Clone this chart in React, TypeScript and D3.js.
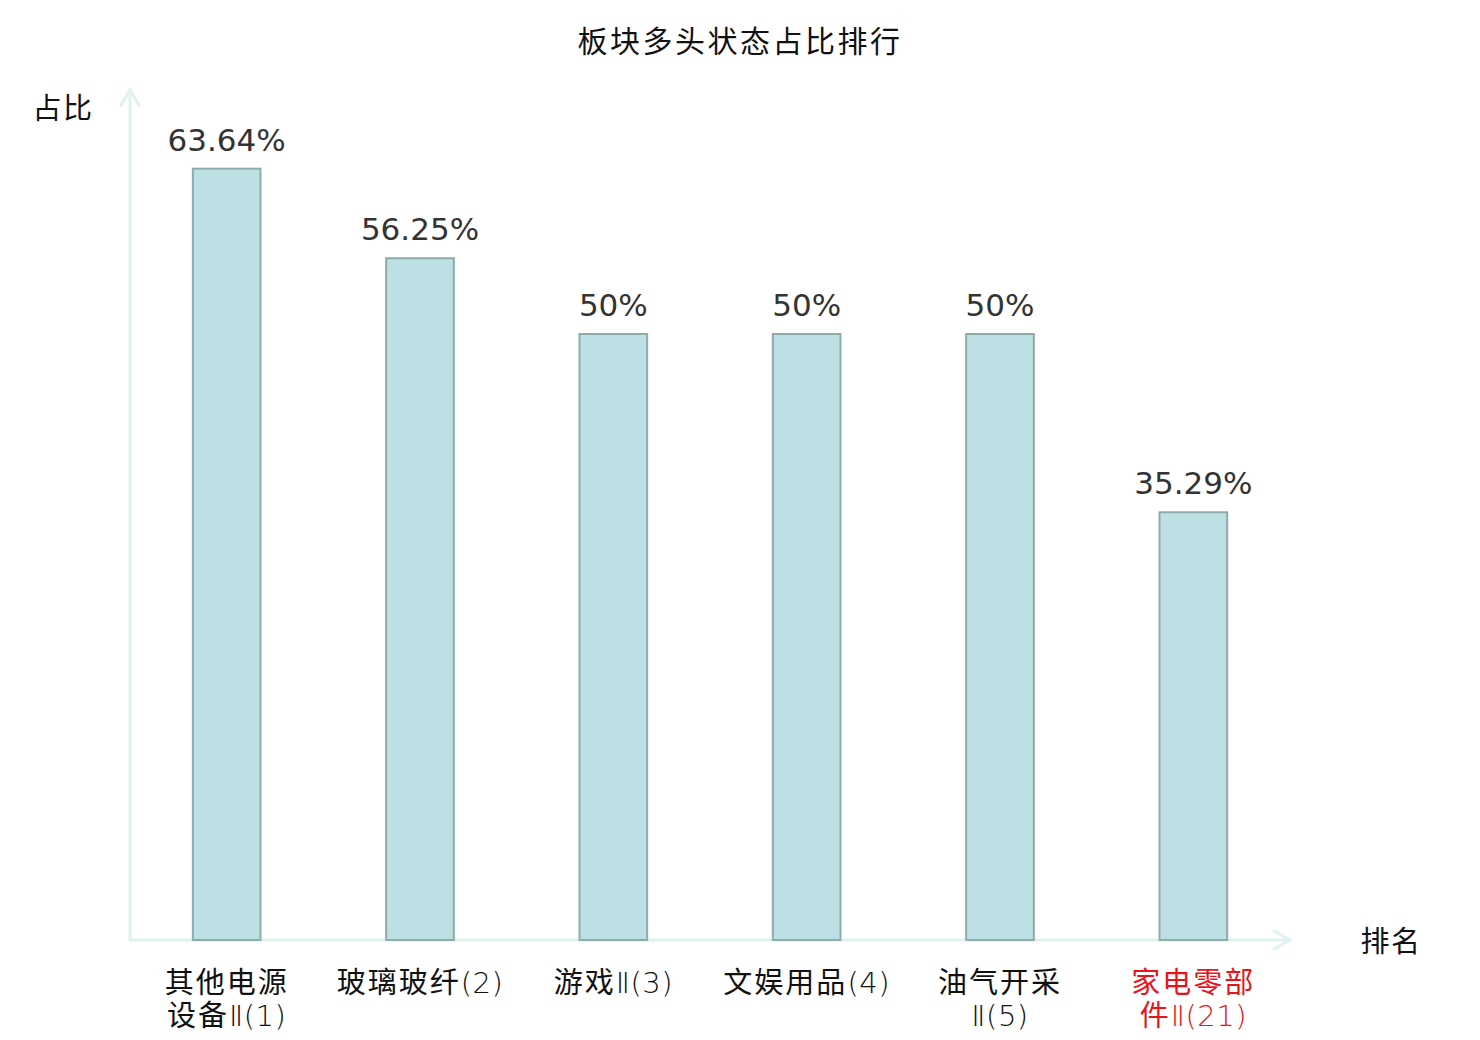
import { useEffect, useRef } from 'react';
import * as d3 from 'd3';

const categories = ['其他电源\n设备Ⅱ(1)', '玻璃玻纤(2)', '游戏Ⅱ(3)', '文娱用品(4)', '油气开采\nⅡ(5)', '家电零部\n件Ⅱ(21)'];
const values = [63.64, 56.25, 50, 50, 50, 35.29];
const valueLabels = ['63.64%', '56.25%', '50%', '50%', '50%', '35.29%'];
const highlighted = [false, false, false, false, false, true];

const title = '板块多头状态占比排行';
const yTitle = '占比';
const xTitle = '排名';

const CJK = '"Noto Sans CJK SC", "DejaVu Sans", sans-serif';
const LATIN = '"DejaVu Sans", "Noto Sans CJK SC", sans-serif';

// split a label line into runs of CJK / non-CJK characters
const splitRuns = (s: string) => s.match(/[\u4e00-\u9fff]+|[^\u4e00-\u9fff]+/g) || [];
const isCjk = (s: string) => /[\u4e00-\u9fff]/.test(s);

export default function App() {
  const svgRef = useRef<SVGSVGElement>(null);

  useEffect(() => {
    if (!svgRef.current) return;
    const svg = d3.select(svgRef.current);
    svg.selectAll('*').remove();

    const width = 1480;
    const height = 1040;
    const x0 = 130;
    const x1 = 1290;
    const yBase = 940;

    const x = d3.scaleBand<number>()
      .domain(d3.range(categories.length))
      .range([x0, x1])
      .paddingInner(0.65)
      .paddingOuter(0.325);

    const y = d3.scaleLinear().domain([0, 70]).range([yBase, 91.6]);

    svg.attr('width', width).attr('height', height);
    svg.append('rect').attr('width', width).attr('height', height).attr('fill', '#ffffff');

    // title
    svg.append('text')
      .attr('x', 740)
      .attr('y', 44)
      .attr('text-anchor', 'middle')
      .attr('dominant-baseline', 'middle')
      .attr('font-family', CJK)
      .attr('font-size', 30)
      .attr('letter-spacing', 2.5)
      .attr('fill', '#111')
      .text(title);

    // axes
    const axisColor = '#dff2ef';
    const axes = svg.append('g')
      .attr('stroke', axisColor)
      .attr('stroke-width', 3)
      .attr('fill', 'none')
      .attr('stroke-linecap', 'round');

    axes.append('line').attr('x1', x0).attr('y1', yBase).attr('x2', x0).attr('y2', 90);
    axes.append('path').attr('d', `M${x0 - 9},${105}L${x0},${90}L${x0 + 9},${105}`);
    axes.append('line').attr('x1', x0).attr('y1', yBase).attr('x2', x1).attr('y2', yBase);
    axes.append('path').attr('d', `M${x1 - 16},${yBase - 9}L${x1},${yBase}L${x1 - 16},${yBase + 9}`);

    // bars
    svg.append('g')
      .selectAll('rect')
      .data(values)
      .join('rect')
      .attr('x', (_, i) => x(i)!)
      .attr('y', d => y(d))
      .attr('width', x.bandwidth())
      .attr('height', d => yBase - y(d))
      .attr('fill', '#bce0e3')
      .attr('stroke', '#8fabab')
      .attr('stroke-width', 2);

    // value labels
    svg.append('g')
      .selectAll('text')
      .data(values)
      .join('text')
      .attr('x', (_, i) => x(i)! + x.bandwidth() / 2)
      .attr('y', d => y(d) - 18)
      .attr('text-anchor', 'middle')
      .attr('font-family', LATIN)
      .attr('font-size', 31)
      .attr('fill', '#333')
      .text((_, i) => valueLabels[i]);

    // category labels, one text per line
    categories.forEach((c, i) => {
      const cx = x(i)! + x.bandwidth() / 2;
      c.split('\n').forEach((line, j) => {
        const t = svg.append('text')
          .attr('x', cx)
          .attr('y', 993 + j * 33)
          .attr('text-anchor', 'middle')
          .attr('font-size', 29)
          .attr('fill', highlighted[i] ? '#e8141c' : '#111');
        splitRuns(line).forEach(run => {
          const cjk = isCjk(run);
          t.append('tspan')
            .attr('font-family', cjk ? CJK : LATIN)
            .attr('font-weight', cjk ? 400 : 200)
            .attr('letter-spacing', cjk ? 2 : 0.5)
            .text(run);
        });
      });
    });

    // axis names
    svg.append('text')
      .attr('x', 63)
      .attr('y', 111)
      .attr('text-anchor', 'middle')
      .attr('dominant-baseline', 'middle')
      .attr('font-family', CJK)
      .attr('font-size', 29)
      .attr('letter-spacing', 1.5)
      .attr('fill', '#111')
      .text(yTitle);

    svg.append('text')
      .attr('x', 1391)
      .attr('y', 944)
      .attr('text-anchor', 'middle')
      .attr('dominant-baseline', 'middle')
      .attr('font-family', CJK)
      .attr('font-size', 29)
      .attr('letter-spacing', 1.5)
      .attr('fill', '#111')
      .text(xTitle);
  }, []);

  return (
    <div style={{ margin: -8 }}>
      <svg ref={svgRef} style={{ display: 'block' }} />
    </div>
  );
}
